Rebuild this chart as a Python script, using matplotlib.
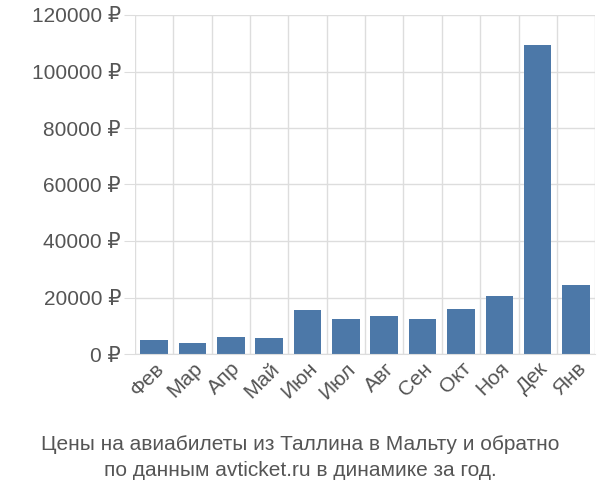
import matplotlib
matplotlib.use("Agg")
import matplotlib.pyplot as plt
from matplotlib.ticker import FixedLocator

months = ["Фев","Мар","Апр","Май","Июн","Июл","Авг","Сен","Окт","Ноя","Дек","Янв"]
prices = [5000, 4000, 6000, 5500, 15500, 12500, 13500, 12500, 16000, 20500, 109500, 24500]
yticks = [0, 20000, 40000, 60000, 80000, 100000, 120000]

plt.rcParams["font.family"] = ["Liberation Sans", "DejaVu Sans"]
fig = plt.figure(figsize=(6, 5), dpi=100)
ax = fig.add_axes([0.225, 0.292, 0.767, 0.678])
x = range(len(months))
ax.bar(x, prices, width=0.72, color="#4c78a8", zorder=2)
ax.set_xlim(-0.5, len(months) - 0.5)
ax.set_ylim(0, 120000)
ax.set_yticks(yticks)
ax.set_yticklabels([f"{v} ₽" for v in yticks], fontsize=15, color="#555555")
ax.set_xticks(list(x))
ax.set_xticklabels(months, rotation=45, ha="right", rotation_mode="anchor", fontsize=15, color="#555555")
ax.xaxis.set_minor_locator(FixedLocator([i - 0.5 for i in range(len(months) + 1)]))
ax.grid(True, which="minor", axis="x", color="#dddddd", lw=1, zorder=0)
ax.grid(True, which="major", axis="y", color="#dddddd", lw=1, zorder=0)
ax.tick_params(which="both", length=0)
ax.tick_params(axis="y", length=8, color="#dddddd", pad=2)
for s in ["top", "right", "left"]:
    ax.spines[s].set_visible(False)
ax.spines["bottom"].set_color("#dddddd")
fig.text(0.5, 0.085, "Цены на авиабилеты из Таллина в Мальту и обратно\nпо данным avticket.ru в динамике за год.",
         ha="center", va="center", fontsize=15, color="#555555", linespacing=1.4)
fig.savefig("out.png", dpi=100)
